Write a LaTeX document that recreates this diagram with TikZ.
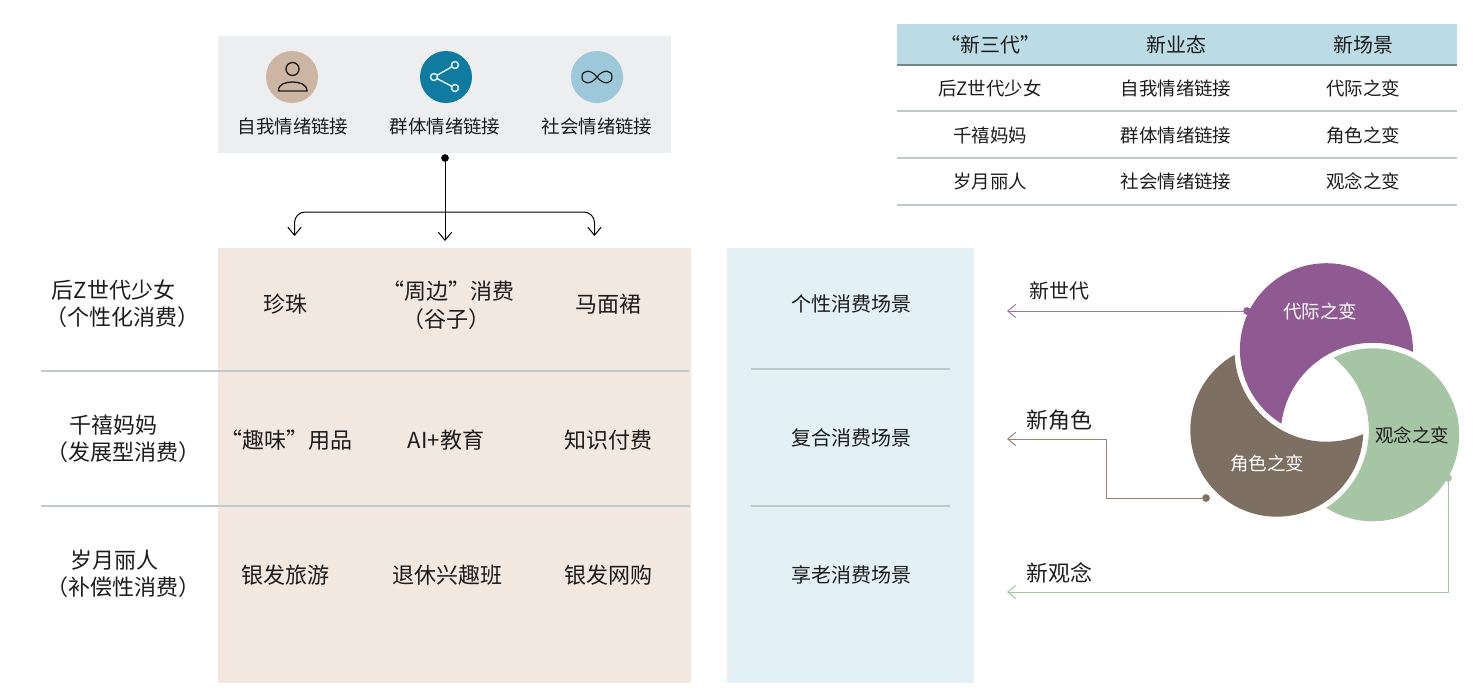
\documentclass[tikz,border=0pt]{standalone}
\usepackage{fontspec}
\setmainfont{Noto Sans CJK SC}
\usetikzlibrary{arrows.meta}
\definecolor{txtdark}{HTML}{1C1C1C}
\definecolor{greybox}{HTML}{ECEEF0}
\definecolor{sandbox}{HTML}{F3E8DF}
\definecolor{icebox}{HTML}{E3F0F5}
\definecolor{headbox}{HTML}{BBDCE5}
\definecolor{rulegrey}{HTML}{BFC8CA}
\definecolor{headrule}{HTML}{71878C}
\definecolor{plum}{HTML}{8F5A92}
\definecolor{umber}{HTML}{7E6F63}
\definecolor{sage}{HTML}{A6C5A5}
\definecolor{iconsand}{HTML}{CDB5A3}
\definecolor{iconteal}{HTML}{0F7BA0}
\definecolor{iconsky}{HTML}{9CC8D9}
\tikzset{
	bigtxt/.style={font=\fontsize{16.5}{20}\selectfont,text=txtdark,inner sep=0pt},
	midtxt/.style={font=\fontsize{15}{18}\selectfont,text=txtdark,inner sep=0pt,yshift=-0.4pt},
	smalltxt/.style={font=\fontsize{13.85}{16}\selectfont,text=txtdark,inner sep=0pt,yshift=-0.6pt},
	link/.style={line width=0.75pt,-{Straight Barb[length=6pt,width=10pt]}},
	tierule/.style={line width=1.1pt,rulegrey}
}
\begin{document}
\begin{tikzpicture}[x=0.75pt,y=-0.75pt]
	\useasboundingbox (0,0) rectangle (1476,687);
	% panels
	\fill[greybox] (218,36) rectangle (671,153);
	\fill[sandbox] (218,248) rectangle (691,683);
	\fill[icebox] (727,248) rectangle (974,683);
	\fill[headbox] (897,24) rectangle (1457,64);

	% icons
	\fill[iconsand] (292,77) circle (26);
	\fill[iconteal] (446,77) circle (26);
	\fill[iconsky] (597,77) circle (26);
	\draw[line width=1pt,txtdark] (292.5,69) circle (6.5);
	\draw[line width=1pt,txtdark] (278.5,91) .. controls (278,84) and (286,82) .. (292.5,82) .. controls (299,82) and (307,84) .. (307,91) -- cycle;
	\draw[line width=1pt,white!85!iconsky] (455,65) -- (434,77) -- (455,88);
	\foreach \x/\y in {455/65,434/77,455/88}
		\filldraw[line width=1pt,draw=white!85!iconsky,fill=iconteal] (\x,\y) circle (3.5);
	\draw[line width=0.9pt,txtdark] (597,77) .. controls (591,69) and (582,69.5) .. (582,77) .. controls (582,84.5) and (591,85) .. (597,77) .. controls (603,69) and (612,69.5) .. (612,77) .. controls (612,84.5) and (603,85) .. (597,77);

	\node[smalltxt] (selflab) at (293,126) {自我情绪链接};
	\node[smalltxt] (grouplab) at (445,126) {群体情绪链接};
	\node[smalltxt] (sociallab) at (597,126) {社会情绪链接};

	% split arrow
	\coordinate (hub) at (445,158);
	\coordinate (bar) at (445,212);
	\coordinate (tipl) at (294.5,236);
	\coordinate (tipm) at (445,241);
	\coordinate (tipr) at (594.5,236);
	\filldraw[black] (hub) circle (3.5);
	\draw[link,black] (hub) -- (tipm);
	\draw[link,black,rounded corners=8pt] (bar) -| (tipl);
	\draw[link,black,rounded corners=8pt] (bar) -| (tipr);

	% table top right
	\draw[line width=1.5pt,headrule] (897,64.5) -- (1457,64.5);
	\foreach \y in {111,158,205}
		\draw[tierule] (897,\y) -- (1457,\y);
	\foreach \x/\n/\t in {990/heada/“新三代”,1176/headb/新业态,1363/headc/新场景}
		\node[midtxt] (\n) at (\x,44) {\t};
	\foreach \x/\y/\n/\t in {
		990/88/ta/后Z世代少女,1176/88/tb/自我情绪链接,1363/88/tc/代际之变,
		990/135/td/千禧妈妈,1176/135/te/群体情绪链接,1363/135/tf/角色之变,
		990/181/tg/岁月丽人,1176/181/th/社会情绪链接,1363/181/ti/观念之变}
		\node[smalltxt] (\n) at (\x,\y) {\t};

	% rows on the left
	\draw[tierule] (41,371) -- (689,371);
	\draw[tierule] (41,506) -- (690,506);
	\draw[tierule] (751,369) -- (950,369);
	\draw[tierule] (751,506) -- (950,506);
	\foreach \x/\y/\n/\t in {
		113.5/290/rowa/后Z世代少女,122/317/rowb/（个性化消费）,
		113/425/rowc/千禧妈妈,123/452/rowd/（发展型消费）,
		114/560/rowe/岁月丽人,123/587/rowf/（补偿性消费）,
		285/304/ca/珍珠,448/291/cb/“周边”消费,446/319/cc/（谷子）,608/304/cd/马面裙,
		286/440/ce/“趣味”用品,446/440/cf/AI+教育,608/440/cg/知识付费,
		285/575/ch/银发旅游,447/575/ci/退休兴趣班,608/575/cj/银发网购,
		1059/420/newb/新角色,1059/573/newc/新观念}
		\node[bigtxt] (\n) at (\x,\y) {\t};
	\foreach \y/\n/\t in {303/scena/个性消费场景,437/scenb/复合消费场景,574/scenc/享老消费场景}
		\node[midtxt] (\n) at (851,\y) {\t};
	\node[midtxt] (newa) at (1059,290) {新世代};

	% crescents
	\begin{scope}[even odd rule]
		\clip (0,0) rectangle (1476,687) (1372.7,434.8) circle (92);
		\fill[plum] (1326.4,349.7) circle (86.5);
	\end{scope}
	\begin{scope}[even odd rule]
		\clip (0,0) rectangle (1476,687) (1326.4,349.7) circle (92);
		\fill[umber] (1276.8,430.2) circle (86.5);
	\end{scope}
	\begin{scope}[even odd rule]
		\clip (0,0) rectangle (1476,687) (1276.8,430.2) circle (92);
		\fill[sage] (1372.7,434.8) circle (86.5);
	\end{scope}
	\node[smalltxt,text=white] (genlab) at (1320,311) {代际之变};
	\node[smalltxt,text=white] (rolelab) at (1267,463) {角色之变};
	\node[smalltxt] (ideolab) at (1412,435) {观念之变};

	% arrows from the crescents
	\coordinate (dota) at (1247,311);
	\coordinate (dotb) at (1206,498);
	\coordinate (dotc) at (1448,478);
	\coordinate (enda) at (1007,311);
	\coordinate (endb) at (1007,439);
	\coordinate (endc) at (1007,592);
	\coordinate (bendb) at (1106,498);
	\coordinate (bendc) at (1448,592);
	\filldraw[plum] (dota) circle (3.5);
	\filldraw[umber] (dotb) circle (3.5);
	\filldraw[sage] (dotc) circle (3.5);
	\draw[link,plum!85] (dota) -- (enda);
	\draw[link,umber!85] (dotb) -- (bendb) |- (endb);
	\draw[link,sage] (dotc) -- (bendc) -- (endc);
\end{tikzpicture}
\end{document}
